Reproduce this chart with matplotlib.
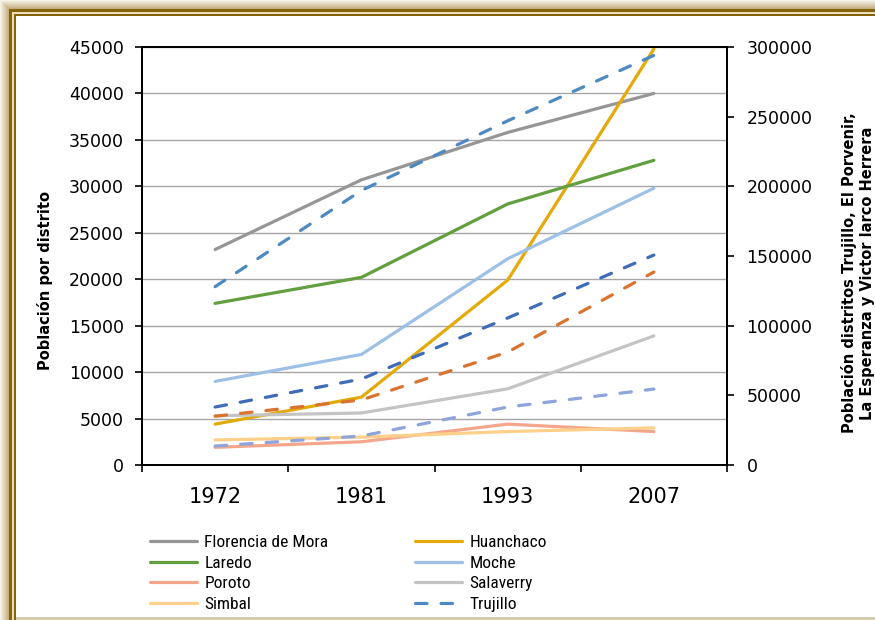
import numpy as np
import matplotlib
matplotlib.use("Agg")
import matplotlib.pyplot as plt

# ---------------------------------------------------------------
# data
# ---------------------------------------------------------------
years = ['1972', '1981', '1993', '2007']

# left axis: poblacion por distrito
florencia = [23200, 30700, 35800, 40000]
huanchaco = [4400, 7300, 19900, 44800]
laredo = [17400, 20200, 28100, 32800]
moche = [9000, 11900, 22200, 29800]
poroto = [1900, 2500, 4400, 3600]
salaverry = [5300, 5600, 8200, 13900]
simbal = [2700, 3000, 3600, 4000]

# right axis: distritos grandes
trujillo = [128000, 197000, 247000, 294000]
el_porvenir = [35000, 46700, 81000, 138500]
la_esperanza = [41600, 61700, 105500, 150700]
victor_larco = [13600, 20800, 41600, 54500]

left_series = [
    ('Florencia de Mora', florencia, '#969696'),
    ('Huanchaco', huanchaco, '#E3AA0A'),
    ('Laredo', laredo, '#62A03F'),
    ('Moche', moche, '#9CC0E6'),
    ('Poroto', poroto, '#F4A68C'),
    ('Salaverry', salaverry, '#C4C4C4'),
    ('Simbal', simbal, '#FFD08A'),
]
right_series = [
    ('Trujillo', trujillo, '#4E8AC2'),
    ('El Porvenir', el_porvenir, '#DA7230'),
    ('La Esperanza', la_esperanza, '#3F6CB8'),
    ('Victor Larco Herrera', victor_larco, '#8EA5DB'),
]

W, H = 875, 620
plt.rcParams['font.family'] = ['DejaVu Sans']

fig = plt.figure(figsize=(W / 100, H / 100), dpi=100)
fig.patch.set_facecolor('white')

# ---------------------------------------------------------------
# frame: beige shadow + double gold line (left and top only)
# ---------------------------------------------------------------
img = np.ones((H, W, 3))
X, Y = np.meshgrid(np.arange(W), np.arange(H))
d = np.minimum(X, Y).astype(float)
light = np.array([0xf6, 0xf2, 0xe6]) / 255
dark = np.array([0xbd, 0xa6, 0x74]) / 255
gold = np.array([0x85, 0x63, 0x0c]) / 255
cream = np.array([0xe9, 0xde, 0xb4]) / 255
t = np.clip(d / 9.0, 0, 1)[..., None]
shadow = light * (1 - t) + dark * t
img = np.where((d < 9)[..., None], shadow, img)
img = np.where(((d >= 9) & (d < 12))[..., None], gold, img)
img = np.where(((d >= 12) & (d < 13.5))[..., None], cream, img)
img = np.where(((d >= 13.5) & (d < 16))[..., None], gold, img)
bottom = (Y >= 617) & (X >= 16)
img[bottom] = np.array([0xd4, 0xc9, 0xa8]) / 255

ax_bg = fig.add_axes([0, 0, 1, 1], zorder=-5)
ax_bg.imshow(img, extent=(0, W, H, 0), aspect='auto', interpolation='nearest')
ax_bg.set_xlim(0, W)
ax_bg.set_ylim(H, 0)
ax_bg.axis('off')

# ---------------------------------------------------------------
# main axes
# ---------------------------------------------------------------
x0, x1, y_top, y_bot = 142, 727, 47, 465
ax = fig.add_axes([x0 / W, 1 - y_bot / H, (x1 - x0) / W, (y_bot - y_top) / H])
ax.set_facecolor('white')
ax2 = ax.twinx()

xs = np.arange(len(years))
handles = []
for name, vals, col in left_series:
    h, = ax.plot(xs, vals, color=col, lw=2.3, solid_capstyle='round', label=name, zorder=3)
    handles.append(h)
for name, vals, col in right_series:
    h, = ax2.plot(xs, vals, color=col, lw=2.3, dashes=(3.6, 4.4),
                  dash_capstyle='round', label=name, zorder=3)
    handles.append(h)

ax.set_xlim(-0.5, len(years) - 0.5)
ax.set_ylim(0, 45000)
ax2.set_ylim(0, 300000)

ax.set_yticks(range(0, 45001, 5000))
ax2.set_yticks(range(0, 300001, 50000))
ax.set_xticks(xs)
ax.set_xticklabels(years)
ax.set_xticks(np.arange(-0.5, len(years)), minor=True)

ax.grid(axis='y', color='#A6A6A6', lw=1.0, zorder=0)
ax.set_axisbelow(True)

for a in (ax, ax2):
    for s in a.spines.values():
        s.set_color('black')
        s.set_linewidth(1.4)

ax.tick_params(axis='y', direction='out', length=5, width=1.2, labelsize=12.5, pad=8)
ax2.tick_params(axis='y', direction='out', length=5, width=1.2, labelsize=12.5, pad=9)
ax.tick_params(axis='x', which='major', length=0, labelsize=15, pad=16)
ax.tick_params(axis='x', which='minor', direction='out', length=5, width=1.2)

fig.text(45 / W, 1 - 281 / H, 'Población por distrito', rotation=90,
         ha='center', va='center', fontsize=10.5, fontweight='bold')
fig.text(858 / W, 1 - 273 / H,
         'Población distritos Trujillo, El Porvenir,\nLa Esperanza y Victor larco Herrera',
         rotation=90, ha='center', va='center', fontsize=10.5, fontweight='bold',
         linespacing=1.3)

# ---------------------------------------------------------------
# legend: only the rows visible in the cropped chart, row order kept
# ---------------------------------------------------------------
leg_font = {'family': ['Liberation Sans Narrow', 'Roboto Condensed', 'DejaVu Sans'],
            'size': 12.5, 'stretch': 'condensed'}
col1 = [handles[i] for i in (0, 2, 4, 6)]
col2 = [handles[i] for i in (1, 3, 5, 7)]
for hs, xpix in ((col1, 150), (col2, 415)):
    fig.legend(hs, [h.get_label() for h in hs], loc='upper left',
               bbox_to_anchor=(xpix / W, 1 - 535 / H), frameon=False,
               prop=leg_font, borderpad=0, borderaxespad=0,
               handlelength=2.7, handletextpad=0.42, labelspacing=0.31)

fig.savefig('out.png', dpi=100)
